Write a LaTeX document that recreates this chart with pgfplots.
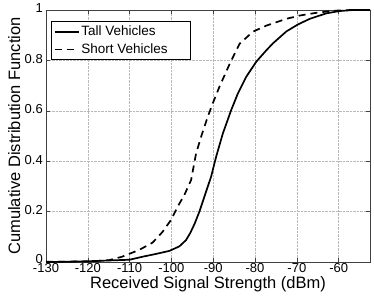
\documentclass[border=0pt]{standalone}
\usepackage{pgfplots}
\pgfplotsset{compat=1.18}
\usepackage{fontspec}
\setmainfont{Liberation Sans}
\begin{document}
\begin{tikzpicture}
\begin{axis}[
  scale only axis,
  width=324pt, height=252pt,
  xmin=-130, xmax=-52.5, ymin=0, ymax=1,
  xtick={-130,-120,-110,-100,-90,-80,-70,-60},
  xticklabels={-130,-120,-110,-100,-90,-80,-70,-60},
  ytick={0,0.2,0.4,0.6,0.8,1},
  yticklabels={\raisebox{3pt}{0},0.2,0.4,0.6,0.8,1},
  grid=major,
  grid style={densely dotted, gray!55, line width=0.5pt},
  axis line style={black!75, line width=0.8pt},
  tick style={black!75, line width=0.5pt},
  major tick length=4pt,
  tick align=inside,
  ticklabel style={font=\fontsize{13}{15}\selectfont, inner sep=1pt},
  xticklabel style={yshift=0pt},
  yticklabel style={xshift=-2pt, yshift=1.5pt},
  xlabel={Received Signal Strength (dBm)},
  ylabel={Cumulative Distribution Function},
  label style={font=\fontsize{16.5}{18}\selectfont},
  xlabel style={yshift=0.5pt},
  ylabel style={yshift=0pt},
  legend style={at={(0.015,0.955)}, anchor=north west, draw=black, line width=0.6pt,
    font=\fontsize{13.5}{15}\selectfont, row sep=2.5pt, inner sep=2.5pt, cells={anchor=west}},
  legend image code/.code={\draw[#1, line width=1.7pt] plot coordinates {(0pt,0pt) (12pt,0pt) (24pt,0pt)};},
  legend cell align=left,
]
\addplot[black, line width=1.7pt] coordinates {
(-130,0) (-125,0.001) (-120,0.003) (-115,0.006) (-110,0.009) (-106.9,0.021)
(-103.7,0.032) (-100.5,0.044) (-98.1,0.062) (-96.5,0.087) (-95.5,0.115)
(-94.5,0.15) (-93.3,0.2) (-92.1,0.26) (-90.5,0.339) (-89.3,0.418)
(-87.7,0.51) (-85.7,0.603) (-84.1,0.669) (-82.1,0.735) (-79.7,0.795)
(-77.3,0.84) (-75.7,0.868) (-72.5,0.915) (-69.7,0.943) (-66.9,0.965)
(-62.9,0.987) (-59.7,0.996) (-56.5,1) (-52.5,1)
};
\addlegendentry{Tall Vehicles}
\addplot[black, line width=1.7pt, dash pattern=on 7pt off 5pt] coordinates {
(-130,0.001) (-120,0.002) (-115,0.007) (-111.8,0.021) (-107.7,0.048)
(-104.5,0.077) (-102.1,0.12) (-100.1,0.167) (-98.5,0.22) (-96.9,0.266)
(-95.3,0.325) (-94.1,0.431) (-92.9,0.497) (-91.3,0.577) (-90.1,0.63)
(-88.5,0.696) (-86.1,0.785) (-83.7,0.866) (-80.5,0.914) (-77.3,0.938)
(-75.7,0.947) (-72.5,0.965) (-69.3,0.978) (-65.3,0.989) (-61.3,0.997)
(-57,1) (-52.5,1)
};
\addlegendentry{Short Vehicles\hspace*{18pt}}
\end{axis}
\pgfresetboundingbox
\path ([shift={(-46pt,-35pt)}]current axis.south west) rectangle ([shift={(4pt,10pt)}]current axis.north east);
\end{tikzpicture}
\end{document}
